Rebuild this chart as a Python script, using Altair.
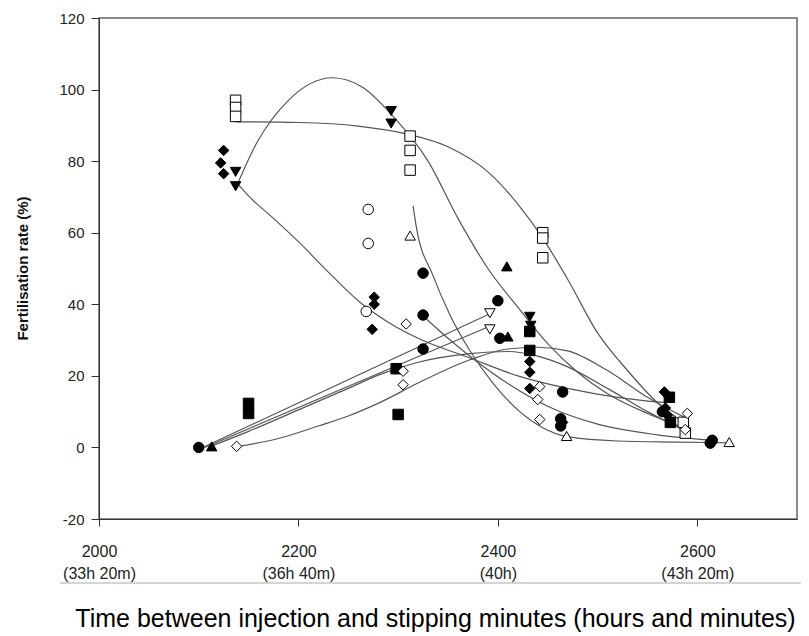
import altair as alt
import pandas as pd

# ---------------- data ----------------
# filled circle
fc_x = [2100, 2325, 2325, 2325, 2400, 2402, 2465, 2463, 2463, 2565, 2615, 2613]
fc_y = [0, 48.7, 37, 27.5, 41, 30.5, 15.5, 8, 6, 10, 2, 1.2]
# open circle
oc_x = [2270, 2270, 2268]
oc_y = [66.5, 57, 38]
# filled triangle-down
ftd_x = [2137, 2137, 2293, 2293, 2432, 2433]
ftd_y = [77, 73, 94, 90.5, 36.5, 34]
# open triangle-down
otd_x = [2392, 2392]
otd_y = [37.5, 33]
# filled square
fs_x = [2150, 2150, 2298, 2300, 2432, 2432, 2572, 2573]
fs_y = [12.3, 9.5, 22, 9.2, 32.4, 27.1, 14, 7]
# open square
os_x = [2137, 2137, 2137, 2312, 2312, 2312, 2445, 2445, 2445, 2586, 2588]
os_y = [97, 95, 92.5, 87, 83, 77.5, 60, 58.5, 53, 7, 4]
# filled diamond
fd_x = [2125, 2122, 2125, 2276, 2276, 2274, 2432, 2432, 2432, 2465, 2567, 2568, 2570]
fd_y = [83, 79.5, 76.5, 42, 40, 33, 24, 21, 16.5, 7, 15.5, 11, 9]
# open diamond
od_x = [2138, 2308, 2305, 2305, 2442, 2440, 2442, 2590, 2588]
od_y = [0.3, 34.5, 21.3, 17.5, 17, 13.4, 7.8, 9.5, 5]
# filled triangle-up
ftu_x = [2113, 2409, 2410]
ftu_y = [0.3, 50.6, 31]
# open triangle-up
otu_x = [2312, 2469, 2632]
otu_y = [59.2, 3.2, 1.5]

series = {
    "fc": (fc_x, fc_y), "oc": (oc_x, oc_y), "ftd": (ftd_x, ftd_y), "otd": (otd_x, otd_y),
    "fs": (fs_x, fs_y), "os": (os_x, os_y), "fd": (fd_x, fd_y), "od": (od_x, od_y),
    "ftu": (ftu_x, ftu_y), "otu": (otu_x, otu_y),
}
sym_codes = ["fc", "oc", "ftd", "otd", "fs", "os", "fd", "od", "ftu", "otu"]
sym_shapes = ["circle", "circle", "triangle-down", "triangle-down", "square", "square",
              "diamond", "diamond", "triangle-up", "triangle-up"]
sym_fills = ["black", "white", "black", "white", "black", "white", "black", "white", "black", "white"]
sym_sizes = [110, 110, 130, 130, 115, 115, 190, 190, 130, 130]

# fitted curves
cA_x = [2137, 2200, 2260, 2310, 2350, 2390, 2420, 2445, 2470, 2500, 2530, 2560, 2592]
cA_y = [91, 90.8, 89.8, 87.5, 84, 77, 68, 58.5, 47, 32, 21.5, 12.5, 6]
cB_x = [2138, 2158, 2190, 2234, 2265, 2295, 2330, 2360, 2390, 2422, 2450, 2480, 2510, 2550, 2582]
cB_y = [73, 85, 97, 103.3, 100.5, 92.5, 80, 64, 50, 38.5, 29, 21, 15, 9.5, 6]
cC_x = [2138, 2151, 2175, 2200, 2230, 2262, 2290, 2320, 2372, 2420, 2470, 2520, 2568]
cC_y = [74, 70, 64, 57.5, 49, 40.5, 35, 30.5, 25, 20, 16.5, 14, 12.5]
cD_x = [2315, 2318, 2335, 2352, 2372, 2395, 2422, 2445, 2470, 2520, 2580, 2632]
cD_y = [67.5, 62, 48, 37, 27, 18, 10, 5.5, 3, 1.8, 1.5, 1.3]
cE1_x = [2104, 2393]
cE1_y = [0, 37.5]
cE2_x = [2106, 2393]
cE2_y = [0, 34]
cF1_x = [2112, 2150, 2200, 2250, 2282, 2320, 2372, 2410, 2440, 2470, 2510, 2550, 2590]
cF1_y = [0.3, 4.5, 10.5, 16.5, 20.4, 23.8, 26.2, 26.8, 25.5, 22.5, 16.5, 10, 4.5]
cF2_x = [2140, 2180, 2220, 2250, 2282, 2320, 2372, 2410, 2440, 2470, 2510, 2550, 2590]
cF2_y = [0.3, 2.5, 6, 8.8, 12.6, 18, 24.5, 27.5, 28, 27, 21.5, 14, 8]
cG_x = [2324, 2350, 2372, 2412, 2450, 2500, 2560, 2615]
cG_y = [37, 30.5, 25.5, 17.5, 11.5, 6.5, 3.5, 2]

curves = {"A": (cA_x, cA_y), "B": (cB_x, cB_y), "C": (cC_x, cC_y), "D": (cD_x, cD_y),
          "E1": (cE1_x, cE1_y), "E2": (cE2_x, cE2_y), "F1": (cF1_x, cF1_y),
          "F2": (cF2_x, cF2_y), "G": (cG_x, cG_y)}

x_ticks = [2000, 2200, 2400, 2600]
hour_labels = ["(33h 20m)", "(36h 40m)", "(40h)", "(43h 20m)"]
y_ticks = [-20, 0, 20, 40, 60, 80, 100, 120]

# ---------------- tables ----------------
pts = pd.DataFrame(
    [{"x": x, "y": y, "sym": k} for k, (xs, ys) in series.items() for x, y in zip(xs, ys)]
)
crv = pd.DataFrame(
    [{"x": x, "y": y, "curve": k, "order": i}
     for k, (xs, ys) in curves.items() for i, (x, y) in enumerate(zip(xs, ys))]
)

label_expr = "[datum.label, " + " : ".join(
    [f"datum.value == {v} ? '{h}'" for v, h in zip(x_ticks[:-1], hour_labels[:-1])]
) + f" : '{hour_labels[-1]}']"

FONT = "Liberation Sans"

x_enc = alt.X(
    "x:Q",
    scale=alt.Scale(domain=[2000, 2700], nice=False, zero=False),
    axis=alt.Axis(
        values=x_ticks, format="d", labelExpr=label_expr,
        title="Time between injection and stipping minutes (hours and minutes)",
        titleFont=FONT, titleFontSize=25, titleFontWeight="normal",
        titleColor="black", titleX=336, titleY=107, titleBaseline="alphabetic",
        labelFont=FONT, labelFontSize=16, labelColor="#222", labelPadding=17,
        labelBaseline="top", labelLineHeight=22, labelFlush=False,
        tickSize=7, tickColor="#333", domainColor="#333", grid=False,
    ),
)
y_enc = alt.Y(
    "y:Q",
    scale=alt.Scale(domain=[-20, 120], nice=False, zero=False),
    axis=alt.Axis(
        values=y_ticks, labelExpr="'' + datum.value", title="Fertilisation rate (%)",
        titleFont=FONT, titleFontSize=15, titleFontWeight="bold", titleColor="#111",
        titleX=-77, titleY=250, titleAngle=-90, titleBaseline="middle", titleAlign="center",
        labelFont=FONT, labelFontSize=15, labelColor="#222", labelPadding=7,
        tickSize=8, tickColor="#333", domainColor="#333", grid=False,
    ),
)

lines = alt.Chart(crv).mark_line(
    color="#555", strokeWidth=1.2, interpolate="monotone"
).encode(x=x_enc, y=y_enc, detail="curve:N", order="order:Q")

points = alt.Chart(pts).mark_point(
    filled=True, stroke="black", strokeWidth=1, opacity=1
).encode(
    x="x:Q", y="y:Q",
    shape=alt.Shape("sym:N", scale=alt.Scale(domain=sym_codes, range=sym_shapes), legend=None),
    fill=alt.Fill("sym:N", scale=alt.Scale(domain=sym_codes, range=sym_fills), legend=None),
    size=alt.Size("sym:N", scale=alt.Scale(domain=sym_codes, range=sym_sizes), legend=None),
)

sep = alt.Chart(pd.DataFrame({"a": [0]})).mark_rule(color="#aaa", strokeWidth=1).encode(
    x=alt.value(-39), x2=alt.value(710), y=alt.value(565)
)

chart = alt.layer(lines, points, sep).properties(
    width=698, height=501,
    autosize=alt.AutoSizeParams(type="none"),
    padding={"left": 91, "top": 10, "right": 4, "bottom": 113},
).configure_view(stroke="#666", strokeWidth=1.5)

chart.save("out.html", embed_options={"renderer": "svg", "actions": False})
